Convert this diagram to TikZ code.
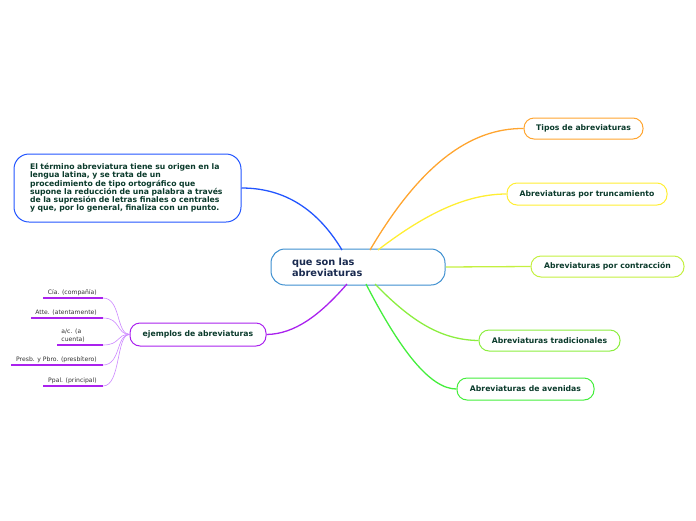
\documentclass[tikz,border=0pt]{standalone}
\usepackage{fontspec}
\setmainfont{DejaVu Sans}
\usetikzlibrary{calc}
\begin{document}
\begin{tikzpicture}[x=1pt,y=-1pt,
  box/.style={draw,rounded corners=10pt,line width=1pt,fill=white,minimum height=22pt,inner xsep=8pt,
    font=\fontsize{7.7}{8}\selectfont\bfseries,text=txt},
  leaf/.style={font=\fontsize{6.1}{7.6}\selectfont,text=black!80,align=center,inner sep=1pt},
  con/.style={line width=1.3pt},
  lcon/.style={line width=0.6pt,draw=lpur},
  ul/.style={line width=1.3pt,draw=pur}]
\definecolor{txt}{HTML}{0B3B2C}
\definecolor{navy}{HTML}{1A2B50}
\definecolor{cblue}{HTML}{3D8FD0}
\definecolor{bblue}{HTML}{2255FF}
\definecolor{orng}{HTML}{FFA530}
\definecolor{yel}{HTML}{FFEE33}
\definecolor{ygr}{HTML}{C4F040}
\definecolor{lgr}{HTML}{8CEE40}
\definecolor{grn}{HTML}{44EE3C}
\definecolor{pur}{HTML}{AA22EE}
\definecolor{lpur}{HTML}{CC88FF}
\useasboundingbox (0,0) rectangle (696,520);

\coordinate (cb) at (342,250);
\coordinate (co) at (370,250);
\coordinate (cy) at (378,250);
\coordinate (cg1) at (375,284);
\coordinate (cg2) at (366,284);
\coordinate (cp) at (347,284);

\node[box,draw=cblue,rounded corners=14pt,minimum width=174pt,minimum height=36pt,text width=132pt,inner xsep=0pt,
  font=\fontsize{9.8}{11}\selectfont\bfseries,text=navy,align=left] (c) at (358,267) {que son las\\abreviaturas};
\node[box,draw=bblue,rounded corners=15pt,minimum width=227pt,minimum height=68pt,text width=195pt,inner xsep=0pt,align=left,
  font=\fontsize{7.7}{8.2}\selectfont\bfseries] (def) at (127.5,188) {El término abreviatura tiene su origen en la\\lengua latina, y se trata de un\\procedimiento de tipo ortográfico que\\supone la reducción de una palabra a través\\de la supresión de letras finales o centrales\\y que, por lo general, finaliza con un punto.};
\node[box,draw=orng,minimum width=119pt,minimum height=21pt] (t1) at (583.5,128.5) {Tipos de abreviaturas};
\node[box,draw=yel,minimum width=160pt] (t2) at (587,194) {Abreviaturas por truncamiento};
\node[box,draw=ygr,minimum width=153pt,minimum height=21pt] (t3) at (607.5,266.5) {Abreviaturas por contracción};
\node[box,draw=lgr,minimum width=141pt,minimum height=21pt] (t4) at (549.5,340.5) {Abreviaturas tradicionales};
\node[box,draw=grn,minimum width=137pt] (t5) at (525.5,389) {Abreviaturas de avenidas};
\node[box,draw=pur,minimum width=136pt,minimum height=23pt] (ej) at (198,334.5) {ejemplos de abreviaturas};

\draw[con,draw=bblue] (cb) .. controls (315,205) and (280,188) .. (def.east);
\draw[con,draw=orng] (co) .. controls (420,165) and (470,128) .. (t1.west);
\draw[con,draw=yel] (cy) .. controls (430,210) and (470,194) .. (t2.west);
\draw[con,draw=ygr] (c.east) -- (t3.west);
\draw[con,draw=lgr] (cg1) .. controls (410,320) and (440,340) .. (t4.west);
\draw[con,draw=grn] (cg2) .. controls (400,350) and (430,389) .. (t5.west);
\draw[con,draw=pur] (cp) .. controls (320,315) and (295,334) .. (ej.east);

\coordinate (lj) at (130,334);
\node[leaf,anchor=south east] (l1) at (98,296.5) {Cía. (compañía)};
\node[leaf,anchor=south east] (l2) at (98,316.5) {Atte. (atentamente)};
\node[leaf,anchor=south east,align=left] (l3) at (86,343.5) {a/c. (a\\cuenta)};
\node[leaf,anchor=south east] (l4) at (98,363.5) {Presb. y Pbro. (presbítero)};
\node[leaf,anchor=south east] (l5) at (98,384.5) {Ppal. (principal)};
\coordinate (u1a) at (43,298); \coordinate (u1b) at (103,298);
\coordinate (u2a) at (31,318); \coordinate (u2b) at (103,318);
\coordinate (u3a) at (57,345); \coordinate (u3b) at (103,345);
\coordinate (u4a) at (11,365); \coordinate (u4b) at (103,365);
\coordinate (u5a) at (43,386); \coordinate (u5b) at (103,386);
\foreach \i in {1,...,5} {
  \draw[lcon] (u\i b) .. controls ($(u\i b)+(18,0)$) and ($(lj)+(-14,0)$) .. (ej.west);
  \draw[ul] (u\i a) -- (u\i b);
}
\end{tikzpicture}
\end{document}
